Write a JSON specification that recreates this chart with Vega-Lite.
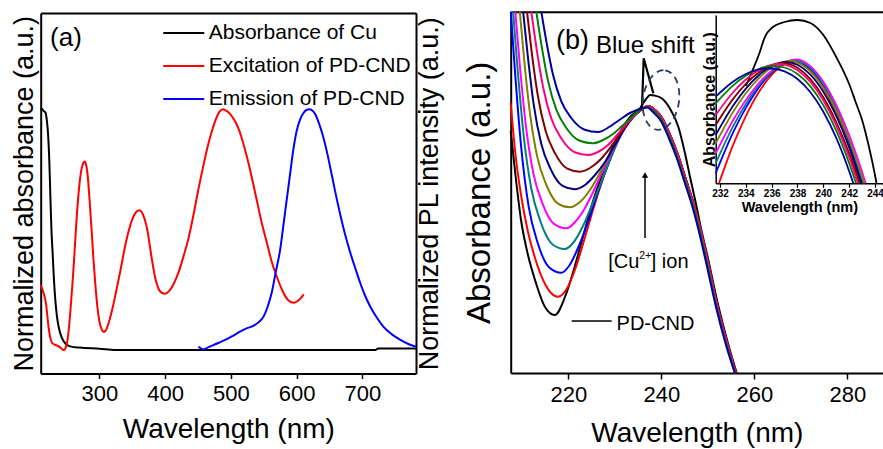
{
"$schema":"https://vega.github.io/schema/vega-lite/v6.json",
"width":883,"height":449,"padding":0,"autosize":{"type":"none"},"background":"white",
"config":{"view":{"stroke":null},"font":"Liberation Sans",
"axis":{"grid":false,"domainColor":"#000","tickColor":"#000","labelColor":"#000","titleColor":"#000","labelFont":"Liberation Sans","titleFont":"Liberation Sans","titleFontWeight":"normal","labelFlush":false,"labelOverlap":false,"titleLimit":1000},
"legend":{"labelFont":"Liberation Sans"},"text":{"font":"Liberation Sans","color":"#000"}},
"datasets":{
"a":[
{"s":"Absorbance of Cu","x":210.8,"y":1.0},{"s":"Absorbance of Cu","x":213,"y":1.004},{"s":"Absorbance of Cu","x":215.5,"y":0.995},{"s":"Absorbance of Cu","x":218,"y":0.99},{"s":"Absorbance of Cu","x":220,"y":0.96},{"s":"Absorbance of Cu","x":222,"y":0.9},{"s":"Absorbance of Cu","x":224,"y":0.78},{"s":"Absorbance of Cu","x":225.5,"y":0.64},{"s":"Absorbance of Cu","x":227,"y":0.51},{"s":"Absorbance of Cu","x":229,"y":0.4},{"s":"Absorbance of Cu","x":231,"y":0.29},{"s":"Absorbance of Cu","x":233,"y":0.21},{"s":"Absorbance of Cu","x":235.5,"y":0.14},{"s":"Absorbance of Cu","x":239,"y":0.085},{"s":"Absorbance of Cu","x":243,"y":0.05},{"s":"Absorbance of Cu","x":249,"y":0.025},{"s":"Absorbance of Cu","x":257,"y":0.014},{"s":"Absorbance of Cu","x":270,"y":0.01},{"s":"Absorbance of Cu","x":300,"y":0.005},{"s":"Absorbance of Cu","x":325,"y":0},{"s":"Absorbance of Cu","x":720,"y":0},{"s":"Absorbance of Cu","x":724,"y":0.006},{"s":"Absorbance of Cu","x":781.7,"y":0.006},
{"s":"Excitation of PD-CND","x":210.8,"y":0.27},{"s":"Excitation of PD-CND","x":213,"y":0.255},{"s":"Excitation of PD-CND","x":216,"y":0.23},{"s":"Excitation of PD-CND","x":219,"y":0.19},{"s":"Excitation of PD-CND","x":221,"y":0.14},{"s":"Excitation of PD-CND","x":223,"y":0.09},{"s":"Excitation of PD-CND","x":225.5,"y":0.05},{"s":"Excitation of PD-CND","x":228,"y":0.03},{"s":"Excitation of PD-CND","x":232,"y":0.022},{"s":"Excitation of PD-CND","x":236,"y":0.018},{"s":"Excitation of PD-CND","x":240,"y":0.012},{"s":"Excitation of PD-CND","x":243.5,"y":0.003},{"s":"Excitation of PD-CND","x":246,"y":0.0},{"s":"Excitation of PD-CND","x":249,"y":0.012},{"s":"Excitation of PD-CND","x":251.5,"y":0.04},{"s":"Excitation of PD-CND","x":254,"y":0.1},{"s":"Excitation of PD-CND","x":257,"y":0.2},{"s":"Excitation of PD-CND","x":260,"y":0.31},{"s":"Excitation of PD-CND","x":263,"y":0.44},{"s":"Excitation of PD-CND","x":266,"y":0.57},{"s":"Excitation of PD-CND","x":269,"y":0.67},{"s":"Excitation of PD-CND","x":272,"y":0.74},{"s":"Excitation of PD-CND","x":275,"y":0.775},{"s":"Excitation of PD-CND","x":277.5,"y":0.785},{"s":"Excitation of PD-CND","x":280,"y":0.77},{"s":"Excitation of PD-CND","x":282.5,"y":0.72},{"s":"Excitation of PD-CND","x":285,"y":0.63},{"s":"Excitation of PD-CND","x":288,"y":0.51},{"s":"Excitation of PD-CND","x":291,"y":0.38},{"s":"Excitation of PD-CND","x":294,"y":0.27},{"s":"Excitation of PD-CND","x":297,"y":0.18},{"s":"Excitation of PD-CND","x":300,"y":0.12},{"s":"Excitation of PD-CND","x":303,"y":0.09},{"s":"Excitation of PD-CND","x":306,"y":0.076},{"s":"Excitation of PD-CND","x":309,"y":0.078},{"s":"Excitation of PD-CND","x":312,"y":0.095},{"s":"Excitation of PD-CND","x":316,"y":0.13},{"s":"Excitation of PD-CND","x":321,"y":0.185},{"s":"Excitation of PD-CND","x":326,"y":0.25},{"s":"Excitation of PD-CND","x":332,"y":0.33},{"s":"Excitation of PD-CND","x":339,"y":0.43},{"s":"Excitation of PD-CND","x":345,"y":0.5},{"s":"Excitation of PD-CND","x":351,"y":0.55},{"s":"Excitation of PD-CND","x":356,"y":0.575},{"s":"Excitation of PD-CND","x":361,"y":0.582},{"s":"Excitation of PD-CND","x":365,"y":0.572},{"s":"Excitation of PD-CND","x":369,"y":0.545},{"s":"Excitation of PD-CND","x":373,"y":0.5},{"s":"Excitation of PD-CND","x":377,"y":0.43},{"s":"Excitation of PD-CND","x":381,"y":0.36},{"s":"Excitation of PD-CND","x":385,"y":0.3},{"s":"Excitation of PD-CND","x":390,"y":0.255},{"s":"Excitation of PD-CND","x":395,"y":0.238},{"s":"Excitation of PD-CND","x":400,"y":0.234},{"s":"Excitation of PD-CND","x":406,"y":0.245},{"s":"Excitation of PD-CND","x":413,"y":0.275},{"s":"Excitation of PD-CND","x":420,"y":0.32},{"s":"Excitation of PD-CND","x":428,"y":0.39},{"s":"Excitation of PD-CND","x":436,"y":0.47},{"s":"Excitation of PD-CND","x":443,"y":0.56},{"s":"Excitation of PD-CND","x":450,"y":0.66},{"s":"Excitation of PD-CND","x":458,"y":0.765},{"s":"Excitation of PD-CND","x":465,"y":0.85},{"s":"Excitation of PD-CND","x":471,"y":0.91},{"s":"Excitation of PD-CND","x":477,"y":0.96},{"s":"Excitation of PD-CND","x":482,"y":0.99},{"s":"Excitation of PD-CND","x":488,"y":1.003},{"s":"Excitation of PD-CND","x":494,"y":0.995},{"s":"Excitation of PD-CND","x":500,"y":0.98},{"s":"Excitation of PD-CND","x":506,"y":0.955},{"s":"Excitation of PD-CND","x":512,"y":0.92},{"s":"Excitation of PD-CND","x":518,"y":0.87},{"s":"Excitation of PD-CND","x":524,"y":0.81},{"s":"Excitation of PD-CND","x":531,"y":0.73},{"s":"Excitation of PD-CND","x":539,"y":0.63},{"s":"Excitation of PD-CND","x":547,"y":0.53},{"s":"Excitation of PD-CND","x":555,"y":0.445},{"s":"Excitation of PD-CND","x":562,"y":0.37},{"s":"Excitation of PD-CND","x":570,"y":0.305},{"s":"Excitation of PD-CND","x":578,"y":0.25},{"s":"Excitation of PD-CND","x":585,"y":0.215},{"s":"Excitation of PD-CND","x":591,"y":0.2},{"s":"Excitation of PD-CND","x":596,"y":0.197},{"s":"Excitation of PD-CND","x":601,"y":0.203},{"s":"Excitation of PD-CND","x":606,"y":0.215},{"s":"Excitation of PD-CND","x":611,"y":0.232},
{"s":"Emission of PD-CND","x":450.7,"y":0.014},{"s":"Emission of PD-CND","x":455,"y":0.006},{"s":"Emission of PD-CND","x":459,"y":0.003},{"s":"Emission of PD-CND","x":466,"y":0.012},{"s":"Emission of PD-CND","x":474,"y":0.021},{"s":"Emission of PD-CND","x":484,"y":0.033},{"s":"Emission of PD-CND","x":494,"y":0.045},{"s":"Emission of PD-CND","x":504,"y":0.06},{"s":"Emission of PD-CND","x":514,"y":0.076},{"s":"Emission of PD-CND","x":524,"y":0.09},{"s":"Emission of PD-CND","x":534,"y":0.1},{"s":"Emission of PD-CND","x":542,"y":0.115},{"s":"Emission of PD-CND","x":550,"y":0.14},{"s":"Emission of PD-CND","x":556,"y":0.18},{"s":"Emission of PD-CND","x":562,"y":0.236},{"s":"Emission of PD-CND","x":568,"y":0.32},{"s":"Emission of PD-CND","x":575,"y":0.417},{"s":"Emission of PD-CND","x":580,"y":0.52},{"s":"Emission of PD-CND","x":585,"y":0.625},{"s":"Emission of PD-CND","x":590,"y":0.73},{"s":"Emission of PD-CND","x":595,"y":0.833},{"s":"Emission of PD-CND","x":600,"y":0.91},{"s":"Emission of PD-CND","x":605,"y":0.958},{"s":"Emission of PD-CND","x":610,"y":0.985},{"s":"Emission of PD-CND","x":615,"y":1.0},{"s":"Emission of PD-CND","x":620,"y":1.003},{"s":"Emission of PD-CND","x":625,"y":0.995},{"s":"Emission of PD-CND","x":629,"y":0.979},{"s":"Emission of PD-CND","x":634,"y":0.945},{"s":"Emission of PD-CND","x":639,"y":0.903},{"s":"Emission of PD-CND","x":645,"y":0.84},{"s":"Emission of PD-CND","x":651,"y":0.764},{"s":"Emission of PD-CND","x":658,"y":0.67},{"s":"Emission of PD-CND","x":666,"y":0.57},{"s":"Emission of PD-CND","x":674,"y":0.48},{"s":"Emission of PD-CND","x":682,"y":0.403},{"s":"Emission of PD-CND","x":690,"y":0.335},{"s":"Emission of PD-CND","x":697,"y":0.278},{"s":"Emission of PD-CND","x":704,"y":0.228},{"s":"Emission of PD-CND","x":712,"y":0.181},{"s":"Emission of PD-CND","x":722,"y":0.135},{"s":"Emission of PD-CND","x":732,"y":0.097},{"s":"Emission of PD-CND","x":745,"y":0.065},{"s":"Emission of PD-CND","x":758,"y":0.042},{"s":"Emission of PD-CND","x":770,"y":0.025},{"s":"Emission of PD-CND","x":781.7,"y":0.014}
],
"b":[
{"c":"k","x":207.6,"y":2.42},{"c":"k","x":208.74,"y":1.93},{"c":"k","x":209.82,"y":1.53},{"c":"k","x":211.32,"y":1.18},{"c":"k","x":212.83,"y":0.93},{"c":"k","x":214.98,"y":0.66},{"c":"k","x":217.06,"y":0.58},{"c":"k","x":219.56,"y":0.797},{"c":"k","x":221.36,"y":1.063},{"c":"k","x":223.15,"y":1.363},{"c":"k","x":224.93,"y":1.663},{"c":"k","x":227.08,"y":1.963},{"c":"k","x":229.23,"y":2.23},{"c":"k","x":231.39,"y":2.43},{"c":"k","x":233.47,"y":2.57},{"c":"k","x":235.4,"y":2.647},{"c":"k","x":236.7,"y":2.74},{"c":"k","x":237.6,"y":2.78},{"c":"k","x":238.5,"y":2.775},{"c":"k","x":240.07,"y":2.747},{"c":"k","x":242.22,"y":2.613},{"c":"k","x":243.64,"y":2.463},{"c":"k","x":245.08,"y":2.197},{"c":"k","x":246.15,"y":1.963},{"c":"k","x":247.4,"y":1.7},{"c":"k","x":248.5,"y":1.45},{"c":"k","x":250.0,"y":1.15},{"c":"k","x":252.2,"y":0.68},{"c":"k","x":254.3,"y":0.3},{"c":"k","x":256.2,"y":0.0},
{"c":"r","x":207.6,"y":2.7},{"c":"r","x":208.52,"y":2.23},{"c":"r","x":209.82,"y":1.78},{"c":"r","x":211.32,"y":1.41},{"c":"r","x":212.83,"y":1.15},{"c":"r","x":214.98,"y":0.89},{"c":"r","x":216.27,"y":0.8},{"c":"r","x":217.77,"y":0.763},{"c":"r","x":219.5,"y":0.83},{"c":"r","x":221.4,"y":1.03},{"c":"r","x":223.4,"y":1.33},{"c":"r","x":225.1,"y":1.6},{"c":"r","x":227.2,"y":1.91},{"c":"r","x":229.4,"y":2.19},{"c":"r","x":231.5,"y":2.41},{"c":"r","x":233.7,"y":2.56},{"c":"r","x":236.12,"y":2.647},{"c":"r","x":237.13,"y":2.67},{"c":"r","x":238.63,"y":2.63},{"c":"r","x":240.14,"y":2.55},{"c":"r","x":241.86,"y":2.38},{"c":"r","x":243.57,"y":2.18},{"c":"r","x":245.3,"y":1.93},{"c":"r","x":247.0,"y":1.68},{"c":"r","x":248.3,"y":1.45},{"c":"r","x":249.8,"y":1.15},{"c":"r","x":251.96,"y":0.68},{"c":"r","x":254.1,"y":0.3},{"c":"r","x":256.0,"y":0.0},
{"c":"b","x":207.62,"y":3.613},{"c":"b","x":208.59,"y":2.971},{"c":"b","x":209.88,"y":2.246},{"c":"b","x":211.45,"y":1.669},{"c":"b","x":213.36,"y":1.307},{"c":"b","x":215.94,"y":1.053},{"c":"b","x":218.48,"y":1.003},{"c":"b","x":220.14,"y":1.07},{"c":"b","x":222.07,"y":1.25},{"c":"b","x":224.22,"y":1.51},{"c":"b","x":226.37,"y":1.81},{"c":"b","x":228.52,"y":2.08},{"c":"b","x":230.68,"y":2.33},{"c":"b","x":232.83,"y":2.5},{"c":"b","x":236.12,"y":2.647},{"c":"b","x":237.13,"y":2.67},{"c":"b","x":238.63,"y":2.63},{"c":"b","x":240.14,"y":2.55},{"c":"b","x":241.86,"y":2.38},{"c":"b","x":243.57,"y":2.18},{"c":"b","x":245.3,"y":1.93},{"c":"b","x":247.0,"y":1.68},{"c":"b","x":248.3,"y":1.45},{"c":"b","x":249.8,"y":1.15},{"c":"b","x":251.96,"y":0.68},{"c":"b","x":254.1,"y":0.3},{"c":"b","x":256.0,"y":0.0},
{"c":"t","x":208.12,"y":3.61},{"c":"t","x":209.11,"y":3.027},{"c":"t","x":210.4,"y":2.369},{"c":"t","x":212.03,"y":1.845},{"c":"t","x":213.99,"y":1.516},{"c":"t","x":216.61,"y":1.285},{"c":"t","x":219.21,"y":1.24},{"c":"t","x":221.0,"y":1.3},{"c":"t","x":222.93,"y":1.45},{"c":"t","x":225.08,"y":1.68},{"c":"t","x":227.23,"y":1.93},{"c":"t","x":229.38,"y":2.18},{"c":"t","x":231.54,"y":2.4},{"c":"t","x":233.69,"y":2.56},{"c":"t","x":236.12,"y":2.647},{"c":"t","x":237.13,"y":2.67},{"c":"t","x":238.63,"y":2.63},{"c":"t","x":240.14,"y":2.55},{"c":"t","x":241.86,"y":2.38},{"c":"t","x":243.57,"y":2.18},{"c":"t","x":245.3,"y":1.93},{"c":"t","x":247.0,"y":1.68},{"c":"t","x":248.3,"y":1.45},{"c":"t","x":249.8,"y":1.15},{"c":"t","x":251.96,"y":0.68},{"c":"t","x":254.1,"y":0.3},{"c":"t","x":256.0,"y":0.0},
{"c":"m","x":208.59,"y":3.612},{"c":"m","x":209.56,"y":3.08},{"c":"m","x":210.85,"y":2.478},{"c":"m","x":212.46,"y":1.999},{"c":"m","x":214.4,"y":1.699},{"c":"m","x":216.98,"y":1.488},{"c":"m","x":219.56,"y":1.447},{"c":"m","x":221.43,"y":1.51},{"c":"m","x":223.58,"y":1.65},{"c":"m","x":225.73,"y":1.85},{"c":"m","x":227.88,"y":2.07},{"c":"m","x":230.03,"y":2.27},{"c":"m","x":232.18,"y":2.45},{"c":"m","x":234.33,"y":2.58},{"c":"m","x":236.12,"y":2.647},{"c":"m","x":237.13,"y":2.67},{"c":"m","x":238.63,"y":2.63},{"c":"m","x":240.14,"y":2.55},{"c":"m","x":241.86,"y":2.38},{"c":"m","x":243.57,"y":2.18},{"c":"m","x":245.3,"y":1.93},{"c":"m","x":247.0,"y":1.68},{"c":"m","x":248.3,"y":1.45},{"c":"m","x":249.8,"y":1.15},{"c":"m","x":251.96,"y":0.68},{"c":"m","x":254.1,"y":0.3},{"c":"m","x":256.0,"y":0.0},
{"c":"o","x":209.56,"y":3.613},{"c":"o","x":210.5,"y":3.132},{"c":"o","x":211.77,"y":2.589},{"c":"o","x":213.34,"y":2.156},{"c":"o","x":215.23,"y":1.885},{"c":"o","x":217.77,"y":1.694},{"c":"o","x":220.29,"y":1.657},{"c":"o","x":222.5,"y":1.71},{"c":"o","x":224.65,"y":1.83},{"c":"o","x":226.8,"y":2.0},{"c":"o","x":228.95,"y":2.19},{"c":"o","x":231.11,"y":2.38},{"c":"o","x":233.26,"y":2.53},{"c":"o","x":236.12,"y":2.647},{"c":"o","x":237.13,"y":2.67},{"c":"o","x":238.63,"y":2.63},{"c":"o","x":240.14,"y":2.55},{"c":"o","x":241.86,"y":2.38},{"c":"o","x":243.57,"y":2.18},{"c":"o","x":245.3,"y":1.93},{"c":"o","x":247.0,"y":1.68},{"c":"o","x":248.3,"y":1.45},{"c":"o","x":249.8,"y":1.15},{"c":"o","x":251.96,"y":0.68},{"c":"o","x":254.1,"y":0.3},{"c":"o","x":256.0,"y":0.0},
{"c":"n2","x":210.27,"y":3.613},{"c":"n2","x":211.26,"y":3.176},{"c":"n2","x":212.55,"y":2.683},{"c":"n2","x":214.18,"y":2.29},{"c":"n2","x":216.14,"y":2.044},{"c":"n2","x":218.76,"y":1.871},{"c":"n2","x":221.36,"y":1.837},{"c":"n2","x":223.58,"y":1.88},{"c":"n2","x":225.73,"y":1.98},{"c":"n2","x":227.88,"y":2.11},{"c":"n2","x":230.03,"y":2.28},{"c":"n2","x":232.18,"y":2.45},{"c":"n2","x":234.33,"y":2.58},{"c":"n2","x":236.12,"y":2.647},{"c":"n2","x":237.13,"y":2.67},{"c":"n2","x":238.63,"y":2.63},{"c":"n2","x":240.14,"y":2.55},{"c":"n2","x":241.86,"y":2.38},{"c":"n2","x":243.57,"y":2.18},{"c":"n2","x":245.3,"y":1.93},{"c":"n2","x":247.0,"y":1.68},{"c":"n2","x":248.3,"y":1.45},{"c":"n2","x":249.8,"y":1.15},{"c":"n2","x":251.96,"y":0.68},{"c":"n2","x":254.1,"y":0.3},{"c":"n2","x":256.0,"y":0.0},
{"c":"br","x":211.11,"y":3.613},{"c":"br","x":212.09,"y":3.219},{"c":"br","x":213.43,"y":2.775},{"c":"br","x":215.11,"y":2.421},{"c":"br","x":217.11,"y":2.199},{"c":"br","x":219.77,"y":2.044},{"c":"br","x":222.44,"y":2.013},{"c":"br","x":224.65,"y":2.05},{"c":"br","x":226.8,"y":2.13},{"c":"br","x":228.95,"y":2.25},{"c":"br","x":231.11,"y":2.39},{"c":"br","x":233.26,"y":2.53},{"c":"br","x":236.12,"y":2.647},{"c":"br","x":237.13,"y":2.67},{"c":"br","x":238.63,"y":2.63},{"c":"br","x":240.14,"y":2.55},{"c":"br","x":241.86,"y":2.38},{"c":"br","x":243.57,"y":2.18},{"c":"br","x":245.3,"y":1.93},{"c":"br","x":247.0,"y":1.68},{"c":"br","x":248.3,"y":1.45},{"c":"br","x":249.8,"y":1.15},{"c":"br","x":251.96,"y":0.68},{"c":"br","x":254.1,"y":0.3},{"c":"br","x":256.0,"y":0.0},
{"c":"p","x":212.03,"y":3.612},{"c":"p","x":213.11,"y":3.259},{"c":"p","x":214.55,"y":2.862},{"c":"p","x":216.33,"y":2.545},{"c":"p","x":218.48,"y":2.347},{"c":"p","x":221.36,"y":2.207},{"c":"p","x":224.22,"y":2.18},{"c":"p","x":226.37,"y":2.21},{"c":"p","x":228.52,"y":2.28},{"c":"p","x":230.68,"y":2.39},{"c":"p","x":232.83,"y":2.51},{"c":"p","x":234.55,"y":2.59},{"c":"p","x":236.12,"y":2.647},{"c":"p","x":237.13,"y":2.67},{"c":"p","x":238.63,"y":2.63},{"c":"p","x":240.14,"y":2.55},{"c":"p","x":241.86,"y":2.38},{"c":"p","x":243.57,"y":2.18},{"c":"p","x":245.3,"y":1.93},{"c":"p","x":247.0,"y":1.68},{"c":"p","x":248.3,"y":1.45},{"c":"p","x":249.8,"y":1.15},{"c":"p","x":251.96,"y":0.68},{"c":"p","x":254.1,"y":0.3},{"c":"p","x":256.0,"y":0.0},
{"c":"g","x":213.11,"y":3.613},{"c":"g","x":214.18,"y":3.289},{"c":"g","x":215.62,"y":2.924},{"c":"g","x":217.41,"y":2.633},{"c":"g","x":219.56,"y":2.45},{"c":"g","x":222.44,"y":2.322},{"c":"g","x":225.3,"y":2.297},{"c":"g","x":227.45,"y":2.33},{"c":"g","x":229.6,"y":2.39},{"c":"g","x":231.54,"y":2.47},{"c":"g","x":233.69,"y":2.56},{"c":"g","x":236.12,"y":2.647},{"c":"g","x":237.0,"y":2.66},{"c":"g","x":238.5,"y":2.615},{"c":"g","x":240.0,"y":2.535},{"c":"g","x":241.7,"y":2.365},{"c":"g","x":243.4,"y":2.165},{"c":"g","x":245.15,"y":1.915},{"c":"g","x":246.85,"y":1.665},{"c":"g","x":248.15,"y":1.435},{"c":"g","x":249.65,"y":1.135},{"c":"g","x":251.8,"y":0.67},{"c":"g","x":253.95,"y":0.29},{"c":"g","x":255.85,"y":0.0},
{"c":"n1","x":214.18,"y":3.613},{"c":"n1","x":215.26,"y":3.317},{"c":"n1","x":216.7,"y":2.983},{"c":"n1","x":218.48,"y":2.717},{"c":"n1","x":220.63,"y":2.55},{"c":"n1","x":223.51,"y":2.433},{"c":"n1","x":226.37,"y":2.41},{"c":"n1","x":228.95,"y":2.465},{"c":"n1","x":231.11,"y":2.535},{"c":"n1","x":233.26,"y":2.6},{"c":"n1","x":234.76,"y":2.63},{"c":"n1","x":236.12,"y":2.647},{"c":"n1","x":236.9,"y":2.655},{"c":"n1","x":238.4,"y":2.6},{"c":"n1","x":239.9,"y":2.52},{"c":"n1","x":241.6,"y":2.35},{"c":"n1","x":243.3,"y":2.15},{"c":"n1","x":245.05,"y":1.9},{"c":"n1","x":246.75,"y":1.65},{"c":"n1","x":248.05,"y":1.42},{"c":"n1","x":249.55,"y":1.12},{"c":"n1","x":251.75,"y":0.66},{"c":"n1","x":253.9,"y":0.28},{"c":"n1","x":255.8,"y":0.0}
],
"bs":[{"x":235.83,"y":2.647},{"x":236.2,"y":3.147},{"x":238.27,"y":2.797}],
"i":[
{"c":"k","x":234.0,"y":0.973},{"c":"k","x":234.5,"y":1.123},{"c":"k","x":235.0,"y":1.283},{"c":"k","x":235.5,"y":1.47},{"c":"k","x":236.0,"y":1.553},{"c":"k","x":237.0,"y":1.613},{"c":"k","x":238.0,"y":1.633},{"c":"k","x":239.0,"y":1.603},{"c":"k","x":240.0,"y":1.483},{"c":"k","x":241.0,"y":1.263},{"c":"k","x":242.0,"y":0.993},{"c":"k","x":242.5,"y":0.813},{"c":"k","x":243.0,"y":0.633},{"c":"k","x":243.5,"y":0.383},{"c":"k","x":244.0,"y":0.083},{"c":"k","x":244.12,"y":0.0},
{"c":"r","x":231.92,"y":0.0},{"c":"r","x":233,"y":0.379},{"c":"r","x":234,"y":0.672},{"c":"r","x":235,"y":0.91},{"c":"r","x":236,"y":1.084},{"c":"r","x":237,"y":1.19},{"c":"r","x":237.67,"y":1.216},{"c":"r","x":239,"y":1.126},{"c":"r","x":240,"y":0.952},{"c":"r","x":241,"y":0.695},{"c":"r","x":242,"y":0.359},{"c":"r","x":242.87,"y":0.0},
{"c":"b","x":231.667,"y":0.1},{"c":"b","x":233,"y":0.504},{"c":"b","x":234,"y":0.754},{"c":"b","x":235,"y":0.957},{"c":"b","x":236,"y":1.106},{"c":"b","x":237,"y":1.198},{"c":"b","x":237.73,"y":1.223},{"c":"b","x":239,"y":1.142},{"c":"b","x":240,"y":0.978},{"c":"b","x":241,"y":0.733},{"c":"b","x":242,"y":0.412},{"c":"b","x":243.03,"y":0.0},
{"c":"t","x":231.667,"y":0.2},{"c":"t","x":233,"y":0.566},{"c":"t","x":234,"y":0.793},{"c":"t","x":235,"y":0.978},{"c":"t","x":236,"y":1.115},{"c":"t","x":237,"y":1.201},{"c":"t","x":237.8,"y":1.228},{"c":"t","x":239,"y":1.156},{"c":"t","x":240,"y":0.998},{"c":"t","x":241,"y":0.758},{"c":"t","x":242,"y":0.441},{"c":"t","x":243.11,"y":0.0},
{"c":"m","x":231.667,"y":0.3},{"c":"m","x":233,"y":0.628},{"c":"m","x":234,"y":0.833},{"c":"m","x":235,"y":1.0},{"c":"m","x":236,"y":1.127},{"c":"m","x":237,"y":1.209},{"c":"m","x":237.94,"y":1.24},{"c":"m","x":239,"y":1.172},{"c":"m","x":240,"y":1.016},{"c":"m","x":241,"y":0.784},{"c":"m","x":242,"y":0.482},{"c":"m","x":243,"y":0.114},{"c":"m","x":243.28,"y":0.0},
{"c":"o","x":231.667,"y":0.4},{"c":"o","x":233,"y":0.711},{"c":"o","x":234,"y":0.9},{"c":"o","x":235,"y":1.05},{"c":"o","x":236,"y":1.157},{"c":"o","x":237,"y":1.216},{"c":"o","x":237.42,"y":1.223},{"c":"o","x":238,"y":1.207},{"c":"o","x":239,"y":1.119},{"c":"o","x":240,"y":0.957},{"c":"o","x":241,"y":0.728},{"c":"o","x":242,"y":0.433},{"c":"o","x":243.18,"y":0.0},
{"c":"n2","x":231.667,"y":0.483},{"c":"n2","x":233,"y":0.772},{"c":"n2","x":234,"y":0.946},{"c":"n2","x":235,"y":1.081},{"c":"n2","x":236,"y":1.171},{"c":"n2","x":237.11,"y":1.213},{"c":"n2","x":238,"y":1.185},{"c":"n2","x":239,"y":1.086},{"c":"n2","x":240,"y":0.915},{"c":"n2","x":241,"y":0.675},{"c":"n2","x":242,"y":0.363},{"c":"n2","x":242.95,"y":0.0},
{"c":"br","x":231.667,"y":0.583},{"c":"br","x":233,"y":0.842},{"c":"br","x":234,"y":0.994},{"c":"br","x":235,"y":1.109},{"c":"br","x":236,"y":1.181},{"c":"br","x":236.8,"y":1.203},{"c":"br","x":238,"y":1.155},{"c":"br","x":239,"y":1.041},{"c":"br","x":240,"y":0.86},{"c":"br","x":241,"y":0.612},{"c":"br","x":242,"y":0.299},{"c":"br","x":242.8,"y":0.0},
{"c":"p","x":231.667,"y":0.683},{"c":"p","x":233,"y":0.908},{"c":"p","x":234,"y":1.038},{"c":"p","x":235,"y":1.132},{"c":"p","x":236,"y":1.185},{"c":"p","x":236.49,"y":1.193},{"c":"p","x":237,"y":1.187},{"c":"p","x":238,"y":1.131},{"c":"p","x":239,"y":1.014},{"c":"p","x":240,"y":0.83},{"c":"p","x":241,"y":0.579},{"c":"p","x":242,"y":0.259},{"c":"p","x":242.68,"y":0.0},
{"c":"g","x":231.667,"y":0.8},{"c":"g","x":233,"y":0.977},{"c":"g","x":234,"y":1.075},{"c":"g","x":235,"y":1.143},{"c":"g","x":236.1,"y":1.173},{"c":"g","x":237,"y":1.158},{"c":"g","x":238,"y":1.093},{"c":"g","x":239,"y":0.97},{"c":"g","x":240,"y":0.782},{"c":"g","x":241,"y":0.527},{"c":"g","x":242,"y":0.201},{"c":"g","x":242.53,"y":0.0},
{"c":"n1","x":231.667,"y":0.866},{"c":"n1","x":233,"y":1.015},{"c":"n1","x":234,"y":1.093},{"c":"n1","x":235,"y":1.14},{"c":"n1","x":235.61,"y":1.15},{"c":"n1","x":236,"y":1.148},{"c":"n1","x":237,"y":1.119},{"c":"n1","x":238,"y":1.043},{"c":"n1","x":239,"y":0.911},{"c":"n1","x":240,"y":0.716},{"c":"n1","x":241,"y":0.454},{"c":"n1","x":242,"y":0.121},{"c":"n1","x":242.32,"y":0.0}
]
},
"layer":[
{"layer":[
 {"data":{"name":"a"},"mark":{"type":"line","strokeWidth":2,"interpolate":"monotone"},
  "encoding":{
   "x":{"field":"x","type":"quantitative","scale":{"domain":[210.8,781.7],"range":[40.7,416],"nice":false,"zero":false},
        "axis":{"orient":"bottom","offset":-75.5,"values":[300,400,500,600,700],"title":"Wavelength (nm)","titleFontSize":28,"labelFontSize":22,"tickSize":5,"tickWidth":1.5,"domainWidth":2,"labelPadding":5,"titlePadding":11}},
   "y":{"field":"y","type":"quantitative","scale":{"domain":[-0.098,1.404],"range":[373.5,13],"nice":false,"zero":false},
        "axis":{"orient":"left","offset":-40.7,"ticks":false,"labels":false,"title":"Normalized absorbance (a.u.)","titleFontSize":27,"titlePadding":2,"domainWidth":2}},
   "color":{"field":"s","type":"nominal","scale":{"domain":["Absorbance of Cu","Excitation of PD-CND","Emission of PD-CND"],"range":["#000000","#ff0000","#0000ff"]},
        "legend":{"orient":"none","legendX":172.25,"legendY":21.5,"title":null,"padding":0,"symbolType":"M-2,0H2","symbolSize":420,"symbolStrokeWidth":2,"labelFontSize":21,"labelOffset":13.5,"labelLimit":400,"rowPadding":11,"labelColor":"#000"}}
  }},
 {"data":{"name":"a"},"mark":{"type":"line","opacity":0},
  "encoding":{
   "x":{"field":"x","type":"quantitative","scale":{"domain":[210.8,781.7],"range":[40.7,416],"nice":false,"zero":false},
        "axis":{"orient":"top","offset":-13,"ticks":false,"labels":false,"title":null,"domainWidth":2}},
   "y":{"field":"y","type":"quantitative","scale":{"domain":[-0.098,1.404],"range":[373.5,13],"nice":false,"zero":false},
        "axis":{"orient":"right","offset":-467,"ticks":false,"labels":false,"title":"Normalized PL intensity (a.u.)","titleFontSize":27,"titleAngle":270,"titleBaseline":"top","titlePadding":0,"domainWidth":2}}
  }},
 {"data":{"values":[{}]},"mark":{"type":"text","text":"(a)","fontSize":26,"align":"left","baseline":"alphabetic"},
  "encoding":{
   "x":{"datum":224.96,"type":"quantitative","scale":{"domain":[210.8,781.7],"range":[40.7,416],"nice":false,"zero":false},"axis":null},
   "y":{"datum":1.265,"type":"quantitative","scale":{"domain":[-0.098,1.404],"range":[373.5,13],"nice":false,"zero":false},"axis":null}}}
 ],
 "resolve":{"axis":{"x":"independent","y":"independent"}}
},
{"layer":[
 {"data":{"name":"b"},"mark":{"type":"line","strokeWidth":2,"interpolate":"monotone"},
  "encoding":{
   "x":{"field":"x","type":"quantitative","scale":{"domain":[207.6,287.66],"range":[510.7,883],"nice":false,"zero":false},
        "axis":{"orient":"bottom","offset":-76,"values":[220,240,260,280],"title":"Wavelength (nm)","titleFontSize":28,"labelFontSize":22,"tickSize":6,"tickWidth":1.5,"domainWidth":2,"labelPadding":5,"titlePadding":14}},
   "y":{"field":"y","type":"quantitative","scale":{"domain":[0,3.613],"range":[373,11.7],"nice":false,"zero":false},
        "axis":{"orient":"left","offset":-510.7,"ticks":false,"labels":false,"title":"Absorbance (a.u.)","titleFontSize":33,"titlePadding":14,"domainWidth":2}},
   "color":{"field":"c","type":"nominal","scale":{"domain":["k","r","b","t","m","o","n2","br","p","g","n1"],"range":["#000000","#ff0000","#0000ff","#008080","#ff00ff","#808000","#000080","#800000","#ff0080","#008000","#0000a0"]},"legend":null}
  }},
 {"data":{"name":"bs"},"mark":{"type":"line","strokeWidth":2.2,"color":"#000"},
  "encoding":{
   "x":{"field":"x","type":"quantitative","scale":{"domain":[207.6,287.66],"range":[510.7,883],"nice":false,"zero":false},"axis":null},
   "y":{"field":"y","type":"quantitative","scale":{"domain":[0,3.613],"range":[373,11.7],"nice":false,"zero":false},"axis":null}}},
 {"data":{"name":"b"},"mark":{"type":"line","opacity":0},
  "encoding":{
   "x":{"field":"x","type":"quantitative","scale":{"domain":[207.6,287.66],"range":[510.7,883],"nice":false,"zero":false},
        "axis":{"orient":"top","offset":-11.7,"ticks":false,"labels":false,"title":null,"domainWidth":2}},
   "y":{"field":"y","type":"quantitative","scale":{"domain":[0,3.613],"range":[373,11.7],"nice":false,"zero":false},"axis":null}}},
 {"data":{"values":[{}]},"mark":{"type":"point","shape":"M0,-1C0.331,-1 0.6,-0.552 0.6,0C0.6,0.552 0.331,1 0,1C-0.331,1 -0.6,0.552 -0.6,0C-0.6,-0.552 -0.331,-1 0,-1Z","size":3600,"filled":false,"stroke":"#2b3a67","strokeWidth":1.8,"strokeDash":[7,5],"opacity":1,"angle":8},
  "encoding":{
   "x":{"datum":239.92,"type":"quantitative","scale":{"domain":[207.6,287.66],"range":[510.7,883],"nice":false,"zero":false},"axis":null},
   "y":{"datum":2.73,"type":"quantitative","scale":{"domain":[0,3.613],"range":[373,11.7],"nice":false,"zero":false},"axis":null}}},
 {"data":{"values":[{}]},"mark":{"type":"rule","strokeWidth":1.5,"color":"#000"},
  "encoding":{
   "x":{"datum":236.48,"type":"quantitative","scale":{"domain":[207.6,287.66],"range":[510.7,883],"nice":false,"zero":false},"axis":null},
   "y":{"datum":1.35,"type":"quantitative","scale":{"domain":[0,3.613],"range":[373,11.7],"nice":false,"zero":false},"axis":null},
   "y2":{"datum":1.96}}},
 {"data":{"values":[{}]},"mark":{"type":"point","shape":"triangle-up","size":40,"filled":true,"color":"#000","opacity":1},
  "encoding":{
   "x":{"datum":236.48,"type":"quantitative","scale":{"domain":[207.6,287.66],"range":[510.7,883],"nice":false,"zero":false},"axis":null},
   "y":{"datum":1.98,"type":"quantitative","scale":{"domain":[0,3.613],"range":[373,11.7],"nice":false,"zero":false},"axis":null}}},
 {"data":{"values":[{}]},"mark":{"type":"rule","strokeWidth":1.5,"color":"#000"},
  "encoding":{
   "x":{"datum":220.71,"type":"quantitative","scale":{"domain":[207.6,287.66],"range":[510.7,883],"nice":false,"zero":false},"axis":null},
   "x2":{"datum":229.31},
   "y":{"datum":0.52,"type":"quantitative","scale":{"domain":[0,3.613],"range":[373,11.7],"nice":false,"zero":false},"axis":null}}},
 {"data":{"values":[{}]},"mark":{"type":"text","text":"PD-CND","fontSize":20,"align":"left","baseline":"alphabetic"},
  "encoding":{
   "x":{"datum":230.37,"type":"quantitative","scale":{"domain":[207.6,287.66],"range":[510.7,883],"nice":false,"zero":false},"axis":null},
   "y":{"datum":0.43,"type":"quantitative","scale":{"domain":[0,3.613],"range":[373,11.7],"nice":false,"zero":false},"axis":null}}},
 {"data":{"values":[{}]},"mark":{"type":"text","text":"[Cu","fontSize":20,"align":"left","baseline":"alphabetic"},
  "encoding":{
   "x":{"datum":228.59,"type":"quantitative","scale":{"domain":[207.6,287.66],"range":[510.7,883],"nice":false,"zero":false},"axis":null},
   "y":{"datum":1.05,"type":"quantitative","scale":{"domain":[0,3.613],"range":[373,11.7],"nice":false,"zero":false},"axis":null}}},
 {"data":{"values":[{}]},"mark":{"type":"text","text":"2+","fontSize":11,"align":"left","baseline":"alphabetic"},
  "encoding":{
   "x":{"datum":235.19,"type":"quantitative","scale":{"domain":[207.6,287.66],"range":[510.7,883],"nice":false,"zero":false},"axis":null},
   "y":{"datum":1.14,"type":"quantitative","scale":{"domain":[0,3.613],"range":[373,11.7],"nice":false,"zero":false},"axis":null}}},
 {"data":{"values":[{}]},"mark":{"type":"text","text":"] ion","fontSize":20,"align":"left","baseline":"alphabetic"},
  "encoding":{
   "x":{"datum":237.71,"type":"quantitative","scale":{"domain":[207.6,287.66],"range":[510.7,883],"nice":false,"zero":false},"axis":null},
   "y":{"datum":1.05,"type":"quantitative","scale":{"domain":[0,3.613],"range":[373,11.7],"nice":false,"zero":false},"axis":null}}},
 {"data":{"values":[{}]},"mark":{"type":"text","text":"Blue shift","fontSize":24,"align":"left","baseline":"alphabetic"},
  "encoding":{
   "x":{"datum":225.94,"type":"quantitative","scale":{"domain":[207.6,287.66],"range":[510.7,883],"nice":false,"zero":false},"axis":null},
   "y":{"datum":3.205,"type":"quantitative","scale":{"domain":[0,3.613],"range":[373,11.7],"nice":false,"zero":false},"axis":null}}},
 {"data":{"values":[{}]},"mark":{"type":"text","text":"(b)","fontSize":27,"align":"left","baseline":"alphabetic"},
  "encoding":{
   "x":{"datum":217.34,"type":"quantitative","scale":{"domain":[207.6,287.66],"range":[510.7,883],"nice":false,"zero":false},"axis":null},
   "y":{"datum":3.237,"type":"quantitative","scale":{"domain":[0,3.613],"range":[373,11.7],"nice":false,"zero":false},"axis":null}}}
 ],
 "resolve":{"axis":{"x":"independent","y":"independent"}}
},
{"data":{"name":"i"},"mark":{"type":"line","strokeWidth":1.8,"interpolate":"monotone"},
 "encoding":{
  "x":{"field":"x","type":"quantitative","scale":{"domain":[231.667,244.62],"range":[715.7,883],"nice":false,"zero":false},
       "axis":{"orient":"bottom","offset":-265.7,"values":[232,234,236,238,240,242,244],"title":"Wavelength (nm)","titleFontSize":14.5,"titleFontWeight":"bold","labelFontSize":10,"labelFontWeight":"bold","tickSize":4,"tickWidth":1.2,"domainWidth":1.5,"labelPadding":1,"titlePadding":2}},
  "y":{"field":"y","type":"quantitative","scale":{"domain":[0,1.683],"range":[183.3,15],"nice":false,"zero":false},
       "axis":{"orient":"left","offset":-715.7,"ticks":false,"labels":false,"title":"Absorbance (a.u.)","titleFontSize":16,"titleFontWeight":"bold","titlePadding":-2,"domainWidth":1.5}},
  "color":{"field":"c","type":"nominal","scale":{"domain":["k","r","b","t","m","o","n2","br","p","g","n1"],"range":["#000000","#ff0000","#0000ff","#008080","#ff00ff","#808000","#000080","#800000","#ff0080","#008000","#0000a0"]},"legend":null}
 }}
],
"resolve":{"scale":{"x":"independent","y":"independent","color":"independent"},"axis":{"x":"independent","y":"independent"},"legend":{"color":"independent"}}
}
